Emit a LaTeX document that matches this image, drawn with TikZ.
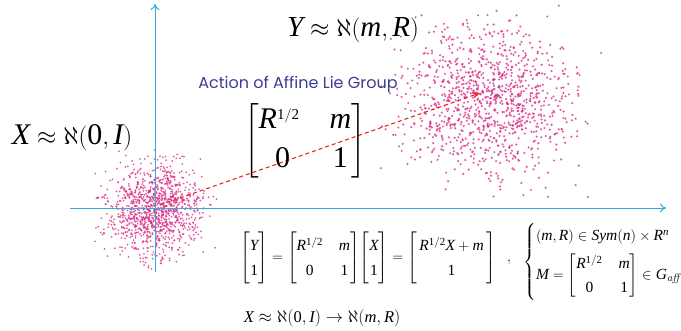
\documentclass[tikz,border=0pt]{standalone}
\usepackage{amsmath}
\usepackage{mathspec}
\setmainfont{Liberation Serif}
\setmathsfont(Digits,Latin,Greek){Liberation Serif}
\newfontfamily\gothic{Poppins}
\usetikzlibrary{arrows.meta}
\definecolor{axiscol}{RGB}{52,170,214}
\definecolor{dotcol}{RGB}{216,40,132}
\definecolor{dashcol}{RGB}{232,40,40}
\definecolor{titlecol}{RGB}{60,60,150}
\tikzset{
  axis/.style={draw=axiscol, line width=1pt, -{To[length=6pt,width=9pt]}},
  dot/.style={fill=dotcol, fill opacity=0.75},
  bigmath/.style={font=\fontsize{30}{35}\selectfont, inner sep=0pt},
  eqmath/.style={font=\fontsize{15.5}{19}\selectfont, inner sep=0pt},
  action/.style={dash pattern=on 4pt off 3pt, draw=dashcol, line width=1.1pt, -{Stealth[length=7pt,width=6pt]}},
}
\begin{document}
\begin{tikzpicture}[x=1pt,y=-1pt]
\useasboundingbox (0,0) rectangle (681,330);
% clouds
\pgfmathsetseed{4711}
\foreach \i in {1,...,1200}{
  \pgfmathsetmacro\dx{23*(rand+rand+rand)}
  \pgfmathsetmacro\dy{22*(rand+rand+rand)}
  \fill[dot] (155+\dx,210+\dy) circle (1.0);
}
\foreach \i in {1,...,1100}{
  \pgfmathsetmacro\dx{41*(rand+rand+rand)}
  \pgfmathsetmacro\dy{36*(rand+rand+rand)}
  \fill[dot] (486+\dx,100+\dy) circle (1.2);
}
% axes
\coordinate (o) at (155,208);
\coordinate (xs) at (70,208);
\coordinate (xe) at (666,208);
\coordinate (ys) at (155,272);
\coordinate (ye) at (155,4);
\draw[axis] (xs) -- (xe);
\draw[axis] (ys) -- (ye);
% dashed action arrow
\coordinate (a0) at (160,205);
\coordinate (a1) at (480,93);
\draw[action] (a0) -- (a1);
% labels
\node[bigmath, font=\fontsize{29}{34}\selectfont] (ylab) at (353,30) {$Y \approx \aleph(m,R)$};
\node[bigmath] (xlab) at (72,138) {$X \approx \aleph(0,I)$};
\node[font=\gothic\fontsize{16}{18}\selectfont, text=titlecol, inner sep=0pt] (title) at (298,84) {Action of Affine Lie Group};
\node[bigmath] (bigm) at (305,141) {$\left[\begin{matrix} R^{\scriptscriptstyle 1/2} & \hspace{20pt} m\\[4pt] \;0 & \hspace{20pt} 1\end{matrix}\right]$};
% bottom equation
\node[eqmath] (eq) at (368,258) {$\renewcommand{\arraystretch}{1.35}\begin{bmatrix} Y\\ 1\end{bmatrix}=\begin{bmatrix} R^{1/2} & \hspace{6pt} m\\ 0 & \hspace{6pt} 1\end{bmatrix}\!\begin{bmatrix} X\\ 1\end{bmatrix}=\begin{bmatrix} \,R^{1/2}X+m\,\\ 1\end{bmatrix}$};
\node[eqmath] (comma) at (509,262) {$,$};
\node[eqmath, anchor=west] (cases) at (523,262) {$\begin{cases} (m,R)\in Sym(n)\times R^{n}\\[4pt] M=\renewcommand{\arraystretch}{1.25}\begin{bmatrix} R^{1/2} & \hspace{6pt} m\\ 0 & \hspace{6pt} 1\end{bmatrix}\in G_{\mathit{aff}}\end{cases}$};
\node[eqmath, font=\fontsize{16.5}{20}\selectfont] (map) at (322,318) {$X \approx \aleph(0,I) \rightarrow \aleph(m,R)$};
\end{tikzpicture}
\end{document}
